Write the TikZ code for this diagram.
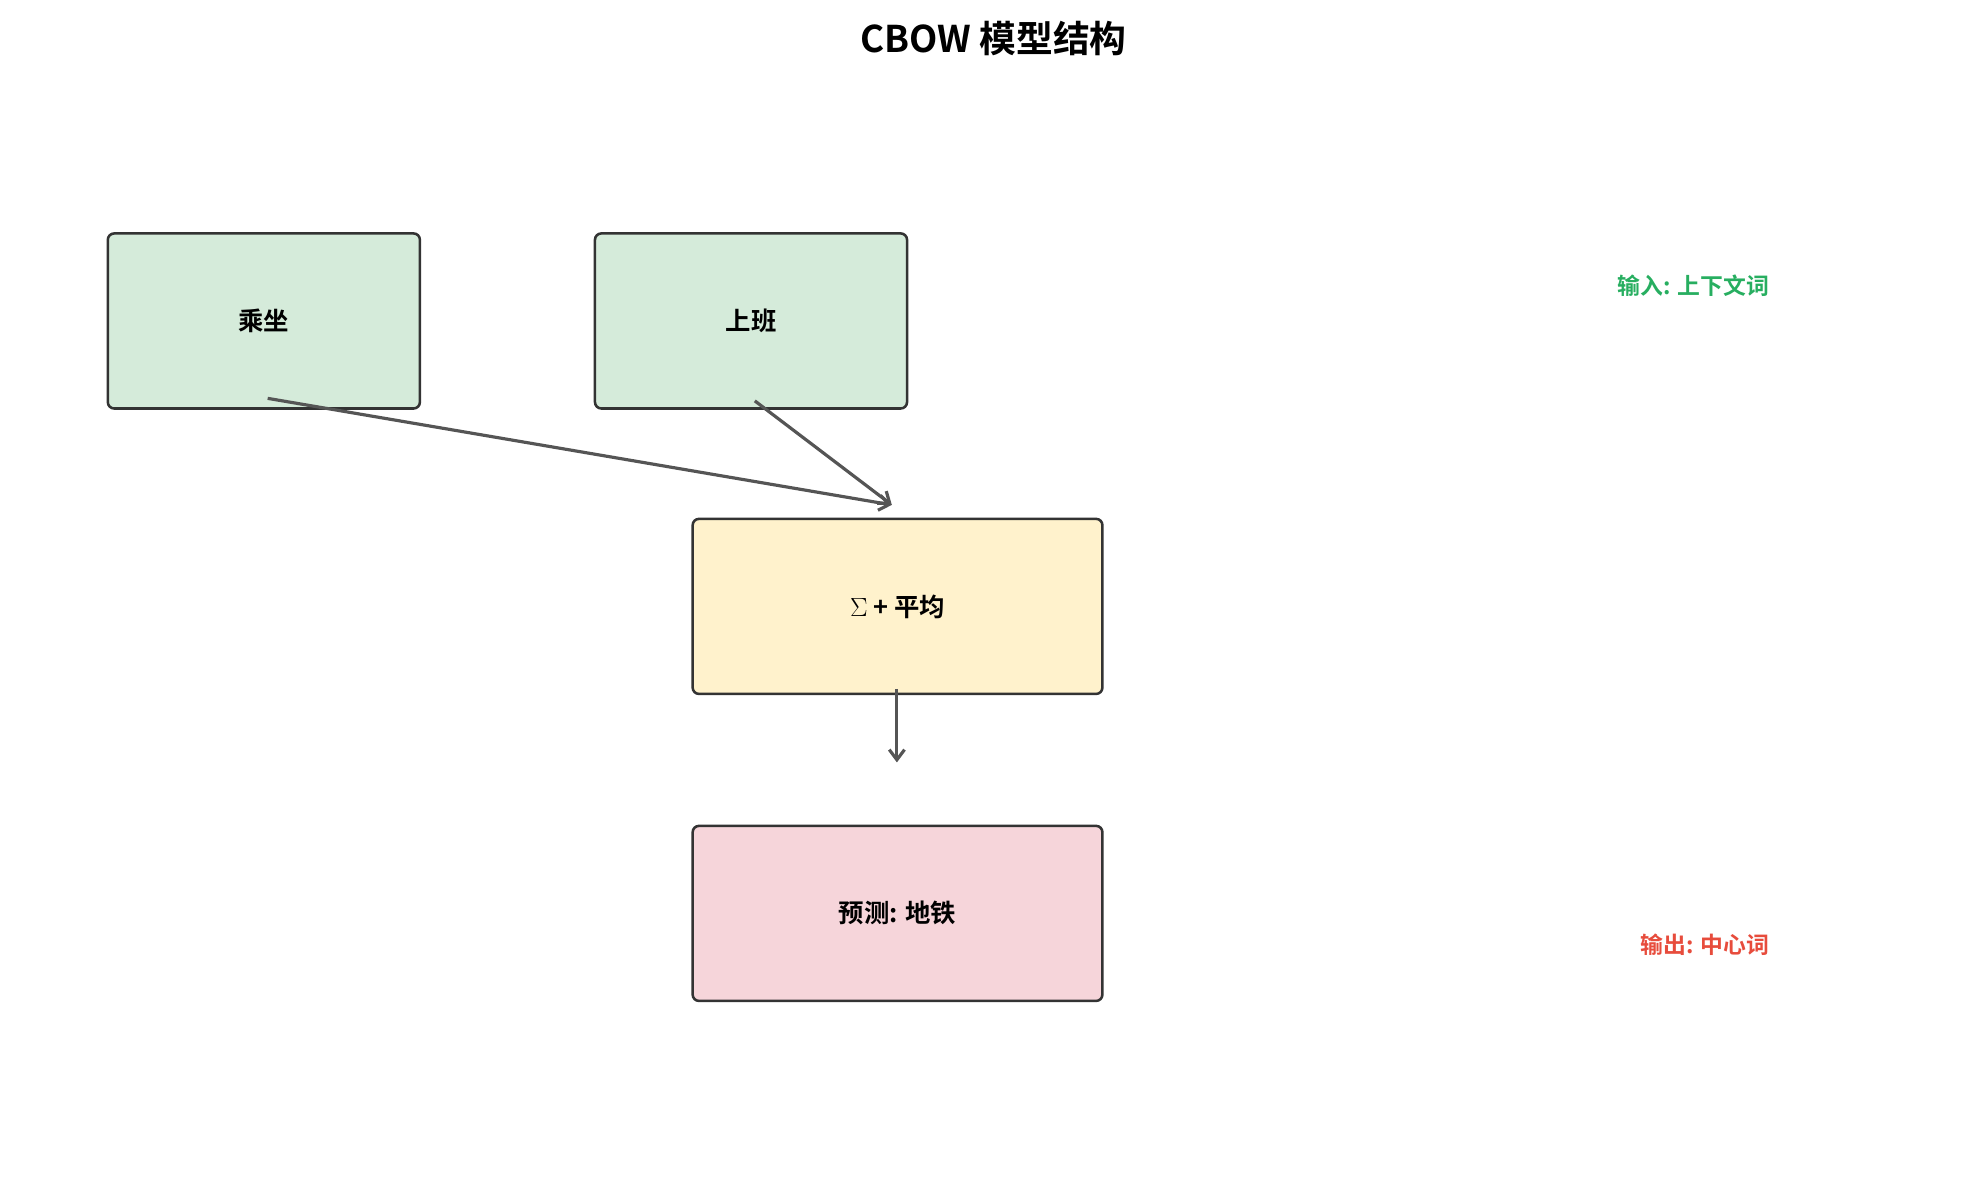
\documentclass[tikz,border=0pt]{standalone}
\usepackage{fontspec}
\setmainfont{Noto Sans CJK SC}[BoldFont={* Bold}]
\usetikzlibrary{positioning, arrows.meta}
\definecolor{BoxLine}{HTML}{333333}
\definecolor{ArrowColor}{HTML}{555555}
\definecolor{InputFill}{HTML}{D5EBDA}
\definecolor{HiddenFill}{HTML}{FFF2CC}
\definecolor{OutputFill}{HTML}{F6D5DA}
\definecolor{InputText}{HTML}{27AE60}
\definecolor{OutputText}{HTML}{E74C3C}
\tikzset{
  word box/.style={rectangle, rounded corners=5pt, draw=BoxLine, line width=2pt, minimum width=246pt, minimum height=138pt, font=\fontsize{20}{24}\selectfont\bfseries},
  layer box/.style={word box, minimum width=323pt},
  flow/.style={-{Straight Barb[length=8pt, width=12pt]}, ArrowColor, line width=2.5pt},
  side label/.style={anchor=east, font=\fontsize{18}{22}\selectfont\bfseries}
}
\begin{document}
\begin{tikzpicture}[x=1pt, y=-1pt]
  \useasboundingbox (0,0) rectangle (1560,930);
  % Title
  \node[font=\fontsize{29}{34}\selectfont\bfseries] (title) at (783,30) {CBOW 模型结构};

  % Context words
  \node[word box, fill=InputFill] (ride) at (208,253) {乘坐};
  \node[word box, fill=InputFill] (work) at (592,253) {上班};

  % Sum and average, prediction
  \node[layer box, fill=HiddenFill] (avg) at (707.5,478) {$\Sigma$ + 平均};
  \node[layer box, fill=OutputFill] (pred) at (707.5,720) {预测: 地铁};

  % Side labels
  \node[side label, text=InputText] (inlabel) at (1398,225) {输入: 上下文词};
  \node[side label, text=OutputText] (outlabel) at (1398,745) {输出: 中心词};

  % Connectors
  \coordinate (rideout) at (211,314);
  \coordinate (workout) at (595,316);
  \coordinate (avgin) at (703,398);
  \coordinate (avgout) at (707,543);
  \coordinate (predin) at (707,601);
  \draw[flow] (rideout) -- (avgin);
  \draw[flow] (workout) -- (avgin);
  \draw[flow] (avgout) -- (predin);
\end{tikzpicture}
\end{document}
